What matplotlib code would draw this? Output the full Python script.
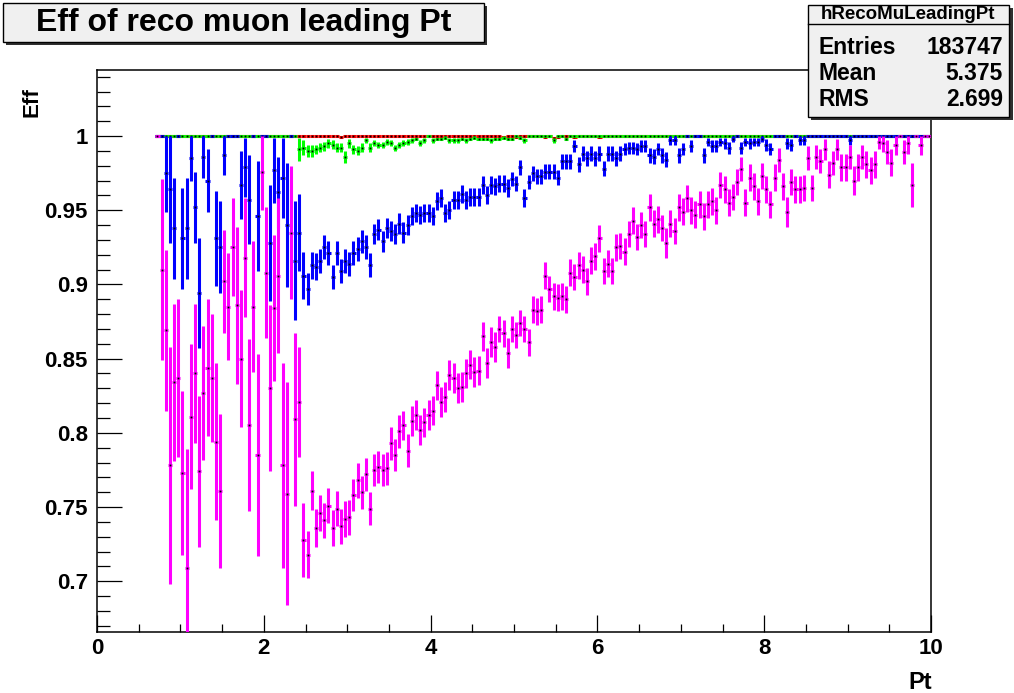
import numpy as np
import matplotlib
matplotlib.use("Agg")
import matplotlib.pyplot as plt
from matplotlib.patches import Rectangle
from matplotlib.lines import Line2D
from matplotlib.ticker import MultipleLocator, FuncFormatter

# binning of the efficiency histograms (Pt, 0.05 wide bins from 0.7 to 10)
bin_lo = 0.70
bin_width = 0.05
n_bins = 186

# magenta efficiency, one value per bin
eff_magenta = [
    1.000, 0.910, 0.869, 0.778, 0.834, 0.837, 0.773, 0.709, 0.811, 0.840,
    0.774, 0.827, 0.844, 0.837, 0.794, 0.761, 0.902, 0.885, 0.925, 0.886,
    0.850, 0.918, 0.805, 0.885, 0.785, 0.976, 0.908, 0.830, 0.884, 0.906,
    0.778, 0.759, 0.935, 0.809, 0.821, 0.728, 0.718, 0.761, 0.736, 0.746,
    0.741, 0.751, 0.736, 0.749, 0.737, 0.742, 0.743, 0.758, 0.768, 0.760,
    0.772, 0.749, 0.775, 0.777, 0.775, 0.776, 0.793, 0.785, 0.801, 0.805,
    0.788, 0.808, 0.812, 0.802, 0.807, 0.812, 0.815, 0.832, 0.821, 0.824,
    0.839, 0.837, 0.830, 0.831, 0.840, 0.846, 0.841, 0.842, 0.865, 0.847,
    0.861, 0.858, 0.870, 0.867, 0.854, 0.870, 0.866, 0.874, 0.870, 0.861,
    0.883, 0.882, 0.883, 0.906, 0.897, 0.892, 0.891, 0.892, 0.890, 0.908,
    0.905, 0.913, 0.910, 0.902, 0.916, 0.919, 0.931, 0.909, 0.914, 0.909,
    0.925, 0.926, 0.922, 0.934, 0.943, 0.932, 0.940, 0.934, 0.952, 0.941,
    0.944, 0.938, 0.928, 0.941, 0.936, 0.952, 0.949, 0.958, 0.950, 0.947,
    0.954, 0.946, 0.954, 0.956, 0.950, 0.967, 0.964, 0.955, 0.959, 0.969,
    0.978, 0.955, 0.972, 0.966, 0.956, 0.973, 0.964, 0.954, 0.972, 0.984,
    0.966, 0.949, 0.969, 0.964, 0.964, 0.965, 0.985, 0.965, 0.986, 0.983,
    0.991, 0.974, 0.982, 0.991, 0.979, 0.979, 0.986, 0.970, 0.979, 0.986,
    0.981, 0.977, 0.981, 0.996, 0.995, 0.989, 0.982, 0.994, 1.000, 0.989,
    0.995, 0.967, 1.000, 0.994, 1.000, 1.000]
err_magenta = [
    0.000, 0.061, 0.054, 0.080, 0.053, 0.053, 0.055, 0.080, 0.049, 0.047,
    0.051, 0.045, 0.046, 0.043, 0.053, 0.052, 0.035, 0.036, 0.033, 0.053,
    0.046, 0.040, 0.058, 0.044, 0.068, 0.026, 0.044, 0.056, 0.049, 0.052,
    0.069, 0.075, 0.045, 0.058, 0.037, 0.025, 0.016, 0.013, 0.013, 0.012,
    0.012, 0.012, 0.012, 0.012, 0.012, 0.012, 0.012, 0.011, 0.012, 0.011,
    0.011, 0.011, 0.011, 0.011, 0.011, 0.011, 0.011, 0.011, 0.011, 0.010,
    0.011, 0.010, 0.010, 0.010, 0.010, 0.010, 0.010, 0.010, 0.010, 0.010,
    0.010, 0.010, 0.010, 0.010, 0.010, 0.010, 0.010, 0.010, 0.010, 0.010,
    0.010, 0.010, 0.009, 0.009, 0.010, 0.009, 0.009, 0.009, 0.009, 0.009,
    0.009, 0.009, 0.009, 0.009, 0.009, 0.009, 0.009, 0.009, 0.009, 0.009,
    0.009, 0.009, 0.009, 0.009, 0.009, 0.009, 0.009, 0.009, 0.009, 0.009,
    0.009, 0.009, 0.009, 0.009, 0.009, 0.009, 0.009, 0.009, 0.009, 0.009,
    0.009, 0.009, 0.010, 0.009, 0.009, 0.009, 0.009, 0.009, 0.009, 0.009,
    0.009, 0.009, 0.009, 0.009, 0.009, 0.009, 0.009, 0.009, 0.009, 0.009,
    0.008, 0.009, 0.009, 0.009, 0.009, 0.009, 0.009, 0.009, 0.009, 0.008,
    0.009, 0.010, 0.009, 0.009, 0.009, 0.009, 0.008, 0.009, 0.008, 0.008,
    0.007, 0.009, 0.008, 0.007, 0.009, 0.009, 0.008, 0.010, 0.009, 0.008,
    0.009, 0.009, 0.009, 0.005, 0.006, 0.008, 0.009, 0.007, 0.000, 0.008,
    0.007, 0.015, 0.000, 0.007, 0.000, 0.000]

# blue efficiency
eff_blue = [
    1.000, 1.000, 0.975, 0.964, 0.938, 1.000, 0.931, 0.938, 0.985, 0.952,
    0.894, 0.986, 0.970, 1.000, 0.931, 0.925, 0.987, 1.000, 1.000, 1.000,
    0.967, 0.979, 0.957, 1.000, 0.946, 1.000, 1.000, 0.928, 0.977, 0.962,
    0.972, 0.940, 1.000, 0.916, 0.935, 0.906, 0.897, 0.913, 0.912, 0.916,
    0.925, 0.921, 0.905, 0.921, 0.909, 0.916, 0.914, 0.921, 0.924, 0.929,
    0.925, 0.913, 0.934, 0.937, 0.929, 0.938, 0.936, 0.934, 0.941, 0.935,
    0.940, 0.946, 0.948, 0.947, 0.948, 0.948, 0.946, 0.956, 0.958, 0.948,
    0.950, 0.957, 0.957, 0.961, 0.957, 0.959, 0.959, 0.959, 0.967, 0.960,
    0.967, 0.966, 0.968, 0.968, 0.965, 0.971, 0.968, 0.979, 0.958, 0.969,
    0.975, 0.973, 0.973, 0.976, 0.976, 0.976, 0.972, 0.983, 0.983, 0.983,
    0.993, 0.981, 0.988, 0.985, 0.988, 0.985, 0.988, 0.978, 0.988, 0.988,
    0.985, 0.988, 0.991, 0.992, 0.992, 0.991, 0.993, 0.993, 0.987, 0.986,
    0.991, 0.987, 0.984, 0.997, 0.997, 0.987, 0.991, 1.000, 0.993, 1.000,
    1.000, 0.987, 0.996, 0.993, 0.993, 0.996, 0.995, 0.992, 0.998, 1.000,
    0.992, 0.996, 0.995, 0.996, 0.996, 0.998, 0.994, 0.991, 1.000, 1.000,
    1.000, 0.995, 0.994, 1.000, 0.997, 0.997, 1.000, 1.000, 1.000, 1.000,
    1.000, 1.000, 1.000, 1.000, 1.000, 1.000, 0.997, 1.000, 1.000, 1.000,
    1.000, 1.000, 1.000, 1.000, 1.000, 1.000, 1.000, 1.000, 1.000, 1.000,
    1.000, 1.000, 1.000, 1.000, 1.000, 1.000]
err_blue = [
    0.000, 0.000, 0.026, 0.036, 0.034, 0.000, 0.034, 0.034, 0.015, 0.024,
    0.037, 0.014, 0.021, 0.000, 0.032, 0.031, 0.013, 0.000, 0.000, 0.000,
    0.023, 0.020, 0.030, 0.000, 0.037, 0.000, 0.000, 0.039, 0.022, 0.024,
    0.027, 0.042, 0.000, 0.040, 0.026, 0.016, 0.011, 0.009, 0.009, 0.008,
    0.008, 0.008, 0.008, 0.008, 0.008, 0.008, 0.008, 0.008, 0.008, 0.008,
    0.008, 0.008, 0.007, 0.007, 0.007, 0.007, 0.007, 0.007, 0.007, 0.007,
    0.007, 0.006, 0.006, 0.006, 0.006, 0.006, 0.006, 0.006, 0.006, 0.006,
    0.006, 0.006, 0.006, 0.006, 0.006, 0.006, 0.006, 0.006, 0.006, 0.006,
    0.006, 0.006, 0.006, 0.006, 0.006, 0.005, 0.005, 0.005, 0.006, 0.005,
    0.005, 0.005, 0.005, 0.005, 0.005, 0.005, 0.005, 0.005, 0.005, 0.005,
    0.004, 0.005, 0.005, 0.005, 0.005, 0.005, 0.005, 0.005, 0.005, 0.005,
    0.005, 0.005, 0.004, 0.004, 0.004, 0.004, 0.004, 0.004, 0.005, 0.005,
    0.004, 0.005, 0.005, 0.003, 0.003, 0.005, 0.004, 0.000, 0.004, 0.000,
    0.000, 0.005, 0.003, 0.004, 0.004, 0.003, 0.004, 0.004, 0.002, 0.000,
    0.004, 0.003, 0.004, 0.003, 0.003, 0.002, 0.004, 0.004, 0.000, 0.000,
    0.000, 0.004, 0.004, 0.000, 0.003, 0.003, 0.000, 0.000, 0.000, 0.000,
    0.000, 0.000, 0.000, 0.000, 0.000, 0.000, 0.003, 0.000, 0.000, 0.000,
    0.000, 0.000, 0.000, 0.000, 0.000, 0.000, 0.000, 0.000, 0.000, 0.000,
    0.000, 0.000, 0.000, 0.000, 0.000, 0.000]

# green efficiency: flat at 1 below 2.4, small dip just above
eff_green = [1.000] * 34 + [
    0.991, 0.992, 0.990, 0.990, 0.991, 0.992,
    0.993, 0.995, 0.994, 0.992, 0.992, 0.986, 0.995, 0.991, 0.990, 0.992,
    0.997, 0.992, 0.995, 0.994, 0.994, 0.996, 0.995, 0.992, 0.994, 0.995,
    0.996, 0.997, 0.998, 0.995, 0.997, 1.000, 0.997, 0.998, 0.998, 0.999,
    0.997, 0.997, 0.997, 0.998, 0.997, 0.998, 0.999, 0.998, 0.998, 0.998,
    0.997, 0.998, 0.998, 0.999, 0.998, 0.998, 1.000, 0.999, 0.997, 1.000,
    1.000, 1.000, 1.000, 1.000, 1.000, 0.997, 1.000, 1.000, 0.998, 1.000] + [1.000] * 86
err_green = [0.000] * 34 + [
    0.008, 0.005, 0.004, 0.004, 0.003, 0.003,
    0.003, 0.003, 0.003, 0.003, 0.003, 0.004, 0.003, 0.003, 0.003, 0.003,
    0.002, 0.003, 0.002, 0.002, 0.002, 0.002, 0.002, 0.002, 0.002, 0.002,
    0.002, 0.002, 0.001, 0.002, 0.002, 0.000, 0.002, 0.001, 0.001, 0.001,
    0.002, 0.002, 0.002, 0.001, 0.002, 0.001, 0.001, 0.001, 0.001, 0.001,
    0.002, 0.001, 0.001, 0.001, 0.001, 0.001, 0.000, 0.001, 0.002, 0.000,
    0.000, 0.000, 0.000, 0.000, 0.000, 0.002, 0.000, 0.000, 0.001, 0.000] + [0.000] * 86

# red efficiency: 1 everywhere, a few tiny dips
eff_red = [1.000] * n_bins
red_dips = {44: 0.9993, 83: 0.9993, 86: 0.9993, 93: 0.9993, 95: 0.9990,
            96: 0.9993, 100: 0.9993, 106: 0.9993}

# stat box numbers
stat_name = "hRecoMuLeadingPt"
stat_rows = [("Entries", "183747"), ("Mean", "5.375"), ("RMS", "2.699")]

W, H = 1014, 693


def fx(px):
    return px / W


def fy(py):
    return 1 - py / H


for k, v in red_dips.items():
    eff_red[k] = v

x = bin_lo + bin_width * (np.arange(n_bins) + 0.5)

fig = plt.figure(figsize=(W / 100, H / 100), dpi=100)
ax = fig.add_axes([fx(97), fy(632), (931 - 97) / W, (632 - 70) / H])

series = [
    (eff_red, [0.0] * n_bins, "#ff0000"),
    (eff_green, err_green, "#00ff00"),
    (eff_blue, err_blue, "#0000ff"),
    (eff_magenta, err_magenta, "#ff00ff"),
]
z = 2
for vals, errs, col in series:
    vals = np.array(vals)
    errs = np.array(errs)
    lo = errs
    hi = np.minimum(errs, 1.0 - vals)
    ax.errorbar(x, vals, xerr=bin_width / 2, yerr=[lo, hi], fmt="none",
                ecolor=col, elinewidth=2.2, capsize=0, zorder=z)
    ax.plot(x, vals, "s", ms=1.3, mew=0, color="black", zorder=z + 0.5)
    z += 1

ax.set_xlim(0, 10)
ax.set_ylim(0.6658, 1.0445)

font = "Liberation Sans"
narrow = ["Liberation Sans Narrow", "Liberation Sans"]
ax.xaxis.set_major_locator(MultipleLocator(2))
ax.xaxis.set_minor_locator(MultipleLocator(0.5))
ax.yaxis.set_major_locator(MultipleLocator(0.05))
ax.yaxis.set_minor_locator(MultipleLocator(0.01))
ax.yaxis.set_major_formatter(FuncFormatter(lambda v, p: "%g" % round(v, 3)))
ax.tick_params(axis="y", which="major", direction="in", length=18, width=0.9, pad=6.5)
ax.tick_params(axis="y", which="minor", direction="in", length=9, width=0.9)
ax.tick_params(axis="x", which="major", direction="in", length=12.2, width=0.9, pad=4.5)
ax.tick_params(axis="x", which="minor", direction="in", length=6.1, width=0.9)
for lab in ax.get_xticklabels() + ax.get_yticklabels():
    lab.set_fontfamily(narrow)
    lab.set_fontweight("bold")
    lab.set_fontsize(16)
for sp in ax.spines.values():
    sp.set_linewidth(1.1)

# axis titles
fig.text(fx(32), fy(87), "Eff", rotation=90, ha="center", va="top",
         fontfamily=narrow, fontweight="bold", fontsize=16)
fig.text(fx(932), fy(689), "Pt", ha="right", va="baseline",
         fontfamily=narrow, fontweight="bold", fontsize=17)

# title pave with shadow
fig.patches.append(Rectangle((fx(6), fy(45)), (487 - 6) / W, (45 - 6) / H,
                             transform=fig.transFigure, facecolor="#303030", edgecolor="none"))
fig.patches.append(Rectangle((fx(3), fy(42)), (484 - 3) / W, (42 - 3) / H,
                             transform=fig.transFigure, facecolor="#f0f0f0",
                             edgecolor="black", lw=1))
fig.text(fx(243.5), fy(22.5), "Eff of reco muon leading Pt", ha="center", va="center",
         fontfamily=font, fontweight="bold", fontsize=23)

# stat box with shadow
fig.patches.append(Rectangle((fx(811), fy(120)), (1013 - 811) / W, (120 - 8) / H,
                             transform=fig.transFigure, facecolor="#303030", edgecolor="none"))
fig.patches.append(Rectangle((fx(808), fy(117)), (1009 - 808) / W, (117 - 5) / H,
                             transform=fig.transFigure, facecolor="#f0f0f0",
                             edgecolor="black", lw=1))
fig.add_artist(Line2D([fx(808), fx(1009)], [fy(23.5), fy(23.5)],
                      transform=fig.transFigure, color="black", lw=1))
fig.text(fx(908.5), fy(14.5), stat_name, ha="center", va="center",
         fontfamily=font, fontweight="bold", fontsize=13.5)
for i, (name, val) in enumerate(stat_rows):
    yy = fy(48 + 26 * i)
    fig.text(fx(818), yy, name, ha="left", va="center",
             fontfamily=font, fontweight="bold", fontsize=16.5)
    fig.text(fx(1003), yy, val, ha="right", va="center",
             fontfamily=font, fontweight="bold", fontsize=16.5)

fig.savefig("out.png", dpi=100)
